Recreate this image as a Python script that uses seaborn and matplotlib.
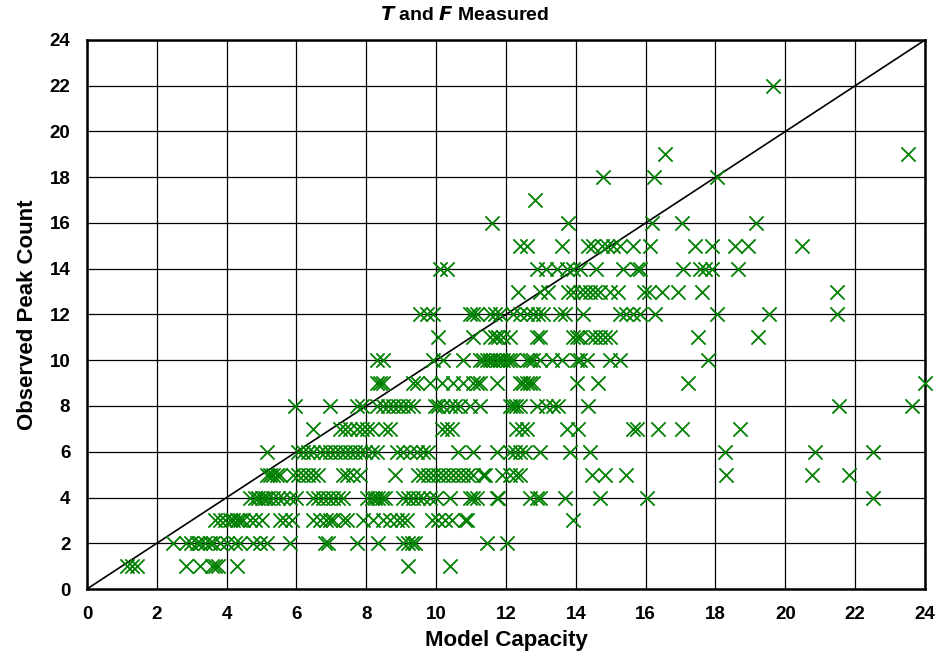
import matplotlib
matplotlib.use("Agg")
import matplotlib.pyplot as plt
import seaborn as sns
import pandas as pd

# Model capacity values for each observed peak count
peak_1 = [1.14, 1.28, 1.42, 2.85, 3.24, 3.57, 3.67, 3.76, 4.29, 9.2, 10.4]
peak_2 = [2.47, 2.85, 2.99, 3.14, 3.24, 3.38, 3.52, 3.62, 3.81, 4.0, 4.24, 4.38,
          4.76, 4.95, 5.15, 5.81, 6.81, 6.9, 7.72, 8.34, 9.06, 9.2, 9.3, 9.39,
          11.45, 12.02]
peak_3 = [3.67, 3.81, 3.95, 4.1, 4.19, 4.29, 4.38, 4.48, 4.67, 4.81, 5.0, 5.53,
          5.67, 5.86, 6.48, 6.67, 6.86, 6.96, 7.05, 7.34, 7.44, 7.91, 8.2, 8.49,
          8.68, 8.87, 9.01, 9.16, 9.87, 10.06, 10.25, 10.44, 10.83, 10.87, 13.93]
peak_4 = [4.67, 4.81, 4.9, 5.0, 5.1, 5.19, 5.34, 5.48, 5.62, 5.81, 6.0, 6.48,
          6.62, 6.77, 6.91, 7.05, 7.2, 7.34, 8.01, 8.15, 8.25, 8.34, 8.44, 8.53,
          9.06, 9.2, 9.35, 9.49, 9.63, 9.82, 10.01, 10.4, 10.97, 11.06, 11.16,
          11.73, 11.78, 12.69, 12.88, 12.97, 13.69, 14.69, 16.03, 22.52]
peak_5 = [5.15, 5.24, 5.34, 5.43, 5.53, 5.91, 6.05, 6.2, 6.34, 6.48, 6.62, 7.34,
          7.44, 7.63, 7.82, 8.82, 9.49, 9.63, 9.77, 9.92, 10.06, 10.2, 10.35,
          10.49, 10.63, 10.78, 10.92, 11.06, 11.35, 11.4, 11.88, 12.11, 12.3,
          12.4, 14.45, 14.83, 15.45, 18.3, 20.75, 21.83]
peak_6 = [5.15, 6.05, 6.2, 6.34, 6.48, 6.67, 6.82, 6.96, 7.1, 7.25, 7.39, 7.53,
          7.68, 7.82, 7.96, 8.15, 8.3, 8.87, 9.06, 9.25, 9.44, 9.63, 9.77, 10.63,
          11.06, 11.73, 12.11, 12.26, 12.4, 12.54, 12.97, 13.83, 14.4, 18.27,
          20.85, 22.52]
peak_7 = [6.48, 7.25, 7.39, 7.53, 7.72, 7.87, 8.01, 8.15, 8.53, 8.68, 10.16,
          10.3, 10.44, 12.3, 12.45, 12.59, 13.74, 14.07, 15.64, 15.74, 16.36,
          17.03, 18.7]
peak_8 = [5.96, 6.96, 7.72, 7.87, 8.3, 8.49, 8.63, 8.77, 8.92, 9.06, 9.2, 9.34,
          9.97, 10.06, 10.2, 10.4, 10.54, 10.68, 10.97, 11.25, 12.11, 12.2, 12.3,
          12.4, 12.88, 13.16, 13.35, 13.5, 14.35, 21.53, 23.62]
peak_9 = [8.3, 8.39, 8.49, 9.34, 9.44, 9.82, 10.16, 10.49, 10.78, 11.06, 11.16,
          11.25, 11.73, 12.4, 12.49, 12.59, 12.69, 12.78, 14.02, 14.64, 17.22,
          24.0]
peak_10 = [8.3, 8.49, 9.92, 10.2, 10.78, 11.25, 11.35, 11.45, 11.54, 11.64,
           11.73, 11.83, 11.92, 12.02, 12.11, 12.21, 12.59, 12.69, 12.78, 12.97,
           13.31, 13.6, 14.02, 14.12, 14.31, 14.98, 15.26, 17.79]
peak_11 = [10.06, 11.06, 11.54, 11.68, 11.78, 11.92, 12.11, 12.88, 12.97, 13.93,
           14.02, 14.12, 14.4, 14.55, 14.69, 14.83, 14.98, 17.51, 19.22]
peak_12 = [9.54, 9.73, 9.92, 10.97, 11.06, 11.16, 11.54, 11.68, 11.83, 12.21,
           12.4, 12.59, 12.78, 12.92, 13.07, 13.54, 13.69, 14.21, 15.26, 15.45,
           15.64, 15.83, 16.27, 18.03, 19.54, 21.47]
peak_13 = [12.35, 12.97, 13.21, 13.78, 13.93, 14.12, 14.26, 14.4, 14.55, 14.69,
           14.98, 15.21, 15.95, 16.1, 16.46, 16.93, 17.6, 21.47]
peak_14 = [10.1, 10.3, 12.88, 13.16, 13.45, 13.74, 13.93, 14.12, 14.59, 15.36,
           15.74, 15.83, 17.07, 17.55, 17.7, 17.89, 18.65]
peak_15 = [12.4, 12.59, 13.6, 14.36, 14.5, 14.74, 14.88, 15.07, 15.26, 15.64,
           16.12, 17.41, 17.89, 18.56, 18.94, 20.48]
peak_16 = [11.59, 13.78, 16.17, 17.05, 19.16]
peak_17 = [12.83]
peak_18 = [14.77, 16.24, 18.03]
peak_19 = [16.55, 23.52]
peak_22 = [19.66]

rows = {1: peak_1, 2: peak_2, 3: peak_3, 4: peak_4, 5: peak_5, 6: peak_6,
        7: peak_7, 8: peak_8, 9: peak_9, 10: peak_10, 11: peak_11, 12: peak_12,
        13: peak_13, 14: peak_14, 15: peak_15, 16: peak_16, 17: peak_17,
        18: peak_18, 19: peak_19, 22: peak_22}

xs, ys = [], []
for count, caps in rows.items():
    xs.extend(caps)
    ys.extend([count] * len(caps))
df = pd.DataFrame({"Model Capacity": xs, "Observed Peak Count": ys})

tick_values = list(range(0, 25, 2))
axis_limit = [0, 24]

sns.set_theme(style="white")
plt.rcParams['font.family'] = ['Liberation Sans', 'DejaVu Sans']

fig = plt.figure(figsize=(9.37, 6.66), dpi=100)
ax = fig.add_axes([0.0928, 0.1156, 0.8944, 0.8244])

ax.plot(axis_limit, axis_limit, color="black", linewidth=1.2, zorder=2)
sns.scatterplot(data=df, x="Model Capacity", y="Observed Peak Count", ax=ax,
                marker="x", color="#008000", s=105, linewidth=1.3, zorder=3,
                clip_on=False)

ax.set_xlim(axis_limit)
ax.set_ylim(axis_limit)
ax.set_xticks(tick_values)
ax.set_yticks(tick_values)
ax.grid(True, color="black", linewidth=0.9)
ax.set_axisbelow(True)
for sp in ax.spines.values():
    sp.set_color("black")
    sp.set_linewidth(1.8)
    sp.set_visible(True)

ax.tick_params(axis="both", which="both", length=0, labelsize=13.5, colors="black")
ax.tick_params(axis="x", pad=12)
ax.tick_params(axis="y", pad=12)
for lab in ax.get_xticklabels() + ax.get_yticklabels():
    lab.set_fontweight("bold")

ax.set_xlabel("Model Capacity", fontsize=16, fontweight="bold", color="black", labelpad=5)
ax.set_ylabel("Observed Peak Count", fontsize=16, fontweight="bold", color="black", labelpad=8)

fig.text(0.496, 0.977, r"$\bfit{T}$ and $\bfit{F}$ Measured", ha="center", va="center",
         fontsize=14, fontweight="bold", color="black")

fig.savefig("out.png", dpi=100)
